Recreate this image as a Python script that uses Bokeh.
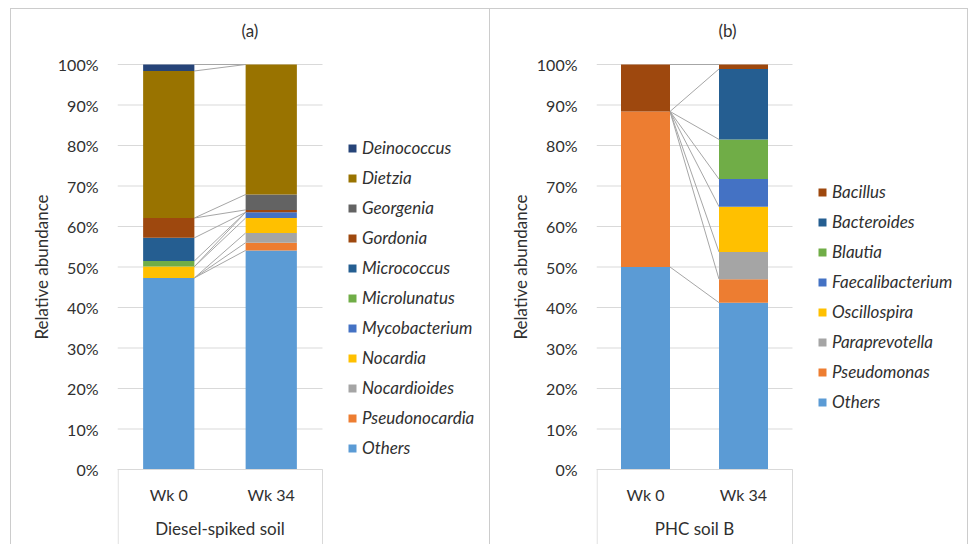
from bokeh.plotting import figure
from bokeh.models import (ColumnDataSource, Legend, LegendItem, FixedTicker,
                          PrintfTickFormatter, Range1d, Title)
from bokeh.core.properties import value
from bokeh.layouts import row
from bokeh.embed import file_html
from bokeh.resources import INLINE

# ---------------- data ----------------
weeks = ["Wk 0", "Wk 34"]
y_ticks = [0, 10, 20, 30, 40, 50, 60, 70, 80, 90, 100]

# panel (a) — stacking order bottom -> top
a_title = "(a)"
a_group = "Diesel-spiked soil"
a_genera = ["Others", "Pseudonocardia", "Nocardioides", "Nocardia", "Mycobacterium",
            "Microlunatus", "Micrococcus", "Gordonia", "Georgenia", "Dietzia", "Deinococcus"]
a_wk0 = [47.3, 0.0, 0.0, 2.8, 0.0, 1.4, 5.7, 4.9, 0.0, 36.3, 1.6]
a_wk34 = [54.1, 1.9, 2.4, 3.7, 1.4, 0.0, 0.0, 0.6, 3.8, 32.1, 0.0]
a_colors = ["#5B9BD5", "#ED7D31", "#A5A5A5", "#FFC000", "#4472C4",
            "#70AD47", "#255E91", "#9E480E", "#636363", "#997300", "#264478"]

# panel (b)
b_title = "(b)"
b_group = "PHC soil B"
b_genera = ["Others", "Pseudomonas", "Paraprevotella", "Oscillospira", "Faecalibacterium",
            "Blautia", "Bacteroides", "Bacillus"]
b_wk0 = [50.0, 38.4, 0.0, 0.0, 0.0, 0.0, 0.0, 11.6]
b_wk34 = [41.2, 5.8, 6.7, 11.2, 6.8, 9.8, 17.4, 1.1]
b_colors = ["#5B9BD5", "#ED7D31", "#A5A5A5", "#FFC000", "#4472C4",
            "#70AD47", "#255E91", "#9E480E"]

FONT = "Lato"
TXT = "#303030"
GRID = "#d9d9d9"
FRAME_LINE = "#cccccc"
BAR_W = 0.5
H = 544
FRAME_TOP = 51                    # top of plotting frame (px)
PLOT_TOP, PLOT_BOTTOM = 64, 469   # pixel rows of 100% and 0%
GROUP_ROW = 528                   # pixel row of the group label


def panel(title, group, genera, wk0, wk34, colors, fig_w, left, px_per_cat, title_offset,
          legend_loc, border_css):
    frame_w = fig_w - left
    n = len(weeks)
    ppu_y = (PLOT_BOTTOM - PLOT_TOP) / 100.0
    y_start = -(H - PLOT_BOTTOM) / ppu_y
    y_end = 100 + (PLOT_TOP - FRAME_TOP) / ppu_y
    p = figure(x_range=Range1d(0, frame_w / px_per_cat), y_range=Range1d(y_start, y_end),
               width=fig_w, height=H, frame_width=frame_w, frame_height=H - FRAME_TOP,
               min_border_left=left, min_border_right=0,
               min_border_top=FRAME_TOP, min_border_bottom=0,
               output_backend="svg", toolbar_location=None, tools="")
    p.outline_line_color = None
    p.background_fill_alpha = 0
    p.border_fill_alpha = 0
    p.styles = border_css

    p.title.text = title
    p.title.align = "left"
    p.title.offset = title_offset
    p.title.text_font = FONT
    p.title.text_font_size = "17px"
    p.title.text_font_style = "normal"
    p.title.text_color = TXT
    p.title.standoff = 22

    xs = [i + 0.5 for i in range(n)]
    data = {"x": xs}
    keys = []
    for i, g in enumerate(genera):
        k = "s%d" % i
        data[k] = [wk0[i], wk34[i]]
        keys.append(k)
    src = ColumnDataSource(data)

    # horizontal gridlines across the category area
    p.segment(x0=[0] * len(y_ticks), x1=[n] * len(y_ticks), y0=y_ticks, y1=y_ticks,
              line_color=GRID, line_width=1)

    # series lines between stacked tops
    cum0, cum34 = 0.0, 0.0
    y0s, y1s = [], []
    for i in range(len(genera)):
        cum0 += wk0[i]
        cum34 += wk34[i]
        y0s.append(cum0)
        y1s.append(cum34)
    p.segment(x0=[xs[0] + BAR_W / 2] * len(genera), y0=y0s,
              x1=[xs[1] - BAR_W / 2] * len(genera), y1=y1s, line_color="#a6a6a6", line_width=1)

    rs = p.vbar_stack(keys, x="x", width=BAR_W, source=src, color=colors, line_color=None)

    # category-axis separators below the plot area
    p.segment(x0=[0.006, n], y0=[0, 0], x1=[0.006, n], y1=[y_start, y_start],
              line_color=GRID, line_width=1)

    # group label
    p.text(x=[n / 2], y=[-(GROUP_ROW - PLOT_BOTTOM) / ppu_y], text=[group],
           text_font=value(FONT), text_font_size="17px", text_color=TXT,
           text_align="center", text_baseline="middle")

    items = [LegendItem(label=genera[i], renderers=[rs[i]]) for i in range(len(genera))][::-1]
    leg = Legend(items=items, location=legend_loc, label_text_font=FONT,
                 label_text_font_style="italic", label_text_font_size="17px",
                 label_text_color=TXT, glyph_width=10, glyph_height=10, label_height=21,
                 spacing=9, padding=0, margin=0, label_standoff=5,
                 border_line_color=None, background_fill_alpha=0)
    p.add_layout(leg, "center")

    # y axis
    p.ygrid.grid_line_color = None
    p.xgrid.grid_line_color = None
    p.yaxis.ticker = FixedTicker(ticks=y_ticks)
    p.yaxis.formatter = PrintfTickFormatter(format="%d%%")
    p.yaxis.axis_line_color = None
    p.yaxis.major_tick_line_color = None
    p.yaxis.major_tick_out = 0
    p.yaxis.major_tick_in = 0
    p.yaxis.minor_tick_line_color = None
    p.yaxis.major_label_standoff = 19
    p.yaxis.major_label_text_font = FONT
    p.yaxis.major_label_text_font_size = "16px"
    p.yaxis.major_label_text_color = TXT

    ylab = Title(text="Relative abundance", align="left", offset=205, text_font=FONT,
                 text_font_size="17px", text_font_style="normal", text_color=TXT, standoff=5)
    p.add_layout(ylab, "left")

    # x (category) axis
    p.xaxis.fixed_location = 0
    p.xaxis.bounds = (0, n)
    p.xaxis.ticker = FixedTicker(ticks=xs)
    p.xaxis.major_label_overrides = {x: w for x, w in zip(xs, weeks)}
    p.xaxis.axis_line_color = GRID
    p.xaxis.major_tick_line_color = None
    p.xaxis.major_tick_out = 0
    p.xaxis.major_tick_in = 0
    p.xaxis.minor_tick_line_color = None
    p.xaxis.major_label_text_font = FONT
    p.xaxis.major_label_text_font_size = "16px"
    p.xaxis.major_label_text_color = TXT
    p.xaxis.major_label_standoff = 15
    return p


def lines_css(specs):
    g = "linear-gradient(%s, %s)" % (FRAME_LINE, FRAME_LINE)
    return {
        "background-image": ", ".join([g] * len(specs)),
        "background-position": ", ".join("%dpx %dpx" % (x, y) for x, y, w, h in specs),
        "background-size": ", ".join("%s %s" % (w, h) for x, y, w, h in specs),
        "background-repeat": "no-repeat",
        "background-color": "white",
    }


pa = panel(a_title, a_group, a_genera, a_wk0, a_wk34, a_colors,
           fig_w=489, left=117, px_per_cat=102.5, title_offset=124, legend_loc=(230, 86),
           border_css=lines_css([(10, 8, "1px", "100%"), (10, 8, "100%", "1px")]))
pb = panel(b_title, b_group, b_genera, b_wk0, b_wk34, b_colors,
           fig_w=479, left=107, px_per_cat=98.0, title_offset=122, legend_loc=(221, 132),
           border_css=lines_css([(0, 8, "1px", "100%"), (0, 8, "100%", "1px"),
                                 (478, 8, "1px", "100%")]))

layout = row(pa, pb, spacing=0)
open("out.html", "w").write(file_html(layout, INLINE))
